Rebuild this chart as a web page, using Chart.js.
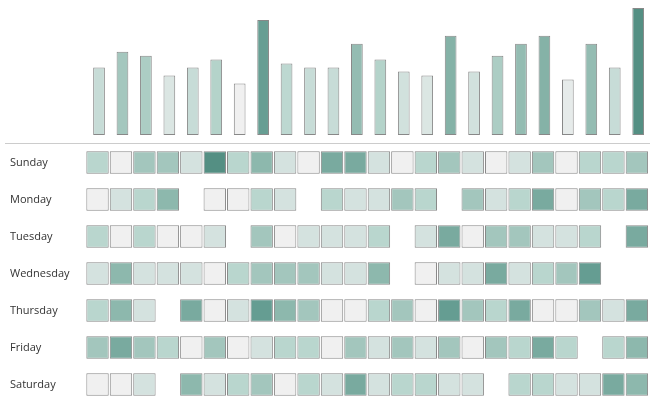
<!DOCTYPE html>
<html lang="en">
<head>
    <meta charset="UTF-8">
    <title>Weekly Activity Heatmap</title>
    <script src="https://cdn.jsdelivr.net/npm/chart.js"></script>
    <style>
        body { margin: 0; background: #fff; }
        #wrap { position: relative; width: 652px; height: 396px; }
        #totals { position: absolute; left: 0; top: 0; }
        #grid { position: absolute; left: 0; top: 144px; }
        #rule { position: absolute; left: 5px; top: 143px; width: 645px; height: 1px; background: #ccc; }
    </style>
</head>
<body>
<div id="wrap">
    <canvas id="totals" width="652" height="143"></canvas>
    <div id="rule"></div>
    <canvas id="grid" width="652" height="252"></canvas>
</div>

<script>
    // columns (hour slots) and rows (days)
    const hours = ['0', '1', '2', '3', '4', '5', '6', '7', '8', '9', '10', '11',
                   '12', '13', '14', '15', '16', '17', '18', '19', '20', '21', '22', '23'];
    const days = ['Sunday', 'Monday', 'Tuesday', 'Wednesday', 'Thursday', 'Friday', 'Saturday'];

    // heatmap values, 0 = no cell
    const sunday    = [3, 1, 4, 4, 2, 8, 3, 5, 2, 1, 6, 6, 2, 1, 3, 4, 2, 1, 2, 4, 1, 3, 3, 4];
    const monday    = [1, 2, 3, 5, 0, 1, 1, 3, 2, 0, 3, 2, 2, 4, 3, 0, 4, 2, 3, 6, 1, 4, 3, 6];
    const tuesday   = [3, 1, 3, 1, 1, 2, 0, 4, 1, 2, 2, 2, 3, 0, 2, 6, 1, 4, 4, 2, 2, 3, 0, 6];
    const wednesday = [2, 5, 2, 2, 2, 1, 3, 4, 4, 4, 2, 2, 5, 0, 1, 2, 2, 6, 2, 3, 4, 7, 0, 0];
    const thursday  = [3, 5, 2, 0, 6, 1, 2, 7, 5, 4, 1, 1, 3, 4, 1, 7, 4, 3, 6, 1, 1, 4, 2, 6];
    const friday    = [4, 6, 4, 3, 1, 4, 1, 2, 3, 3, 1, 4, 2, 4, 2, 4, 1, 4, 3, 6, 3, 0, 3, 5];
    const saturday  = [1, 1, 2, 0, 5, 2, 3, 4, 1, 3, 2, 6, 2, 3, 3, 2, 2, 0, 3, 3, 2, 2, 6, 5];

    // column totals shown in the top bar chart
    const totals = [17, 21, 20, 15, 17, 19, 13, 29, 18, 17, 17, 23, 19, 16, 15, 25, 16, 20, 23, 25, 14, 23, 17, 32];

    // colour steps for values 1..8
    const shades = ['#f0f0f0', '#d4e2df', '#b9d6ce', '#a3c6bd', '#8db8ad', '#79aa9f', '#659d92', '#548f83'];

    const rows = [sunday, monday, tuesday, wednesday, thursday, friday, saturday];

    function hexToRgb(h) {
        return [1, 3, 5].map(i => parseInt(h.substr(i, 2), 16));
    }

    // interpolate along the shade steps, level goes from 1 to 8
    function shadeAt(level) {
        const i = Math.min(Math.floor(level) - 1, shades.length - 2);
        const f = level - 1 - i;
        const a = hexToRgb(shades[i]), b = hexToRgb(shades[i + 1]);
        const c = a.map((v, k) => Math.round(v + (b[k] - v) * f));
        return `rgb(${c[0]}, ${c[1]}, ${c[2]})`;
    }

    const lo = Math.min(...totals), hi = Math.max(...totals);

    Chart.defaults.font.family = "'Open Sans', sans-serif";

    new Chart(document.getElementById('totals'), {
        type: 'bar',
        data: {
            labels: hours,
            datasets: [{
                data: totals,
                backgroundColor: totals.map(v => shadeAt(1 + 7 * (v - lo) / (hi - lo))),
                borderColor: '#888',
                borderWidth: 1,
                borderSkipped: false,
                barPercentage: 0.5,
                categoryPercentage: 1
            }]
        },
        options: {
            responsive: false,
            animation: false,
            layout: { padding: { left: 87.3, right: 2.1, top: 8, bottom: 8 } },
            plugins: { legend: { display: false }, tooltip: { enabled: false } },
            scales: {
                x: { display: false },
                y: { display: false, min: 0, max: 32 }
            }
        }
    });

    new Chart(document.getElementById('grid'), {
        type: 'bar',
        data: {
            labels: hours,
            datasets: rows.map((row, r) => ({
                label: days[r],
                data: row.map(v => v ? [r - 0.303, r + 0.303] : null),
                backgroundColor: row.map(v => shades[Math.max(v, 1) - 1]),
                borderColor: '#888',
                borderWidth: 1,
                borderSkipped: false,
                barPercentage: 0.955,
                categoryPercentage: 1,
                grouped: false
            }))
        },
        options: {
            responsive: false,
            animation: false,
            layout: { padding: { left: 10, right: 3.4, top: 0, bottom: 0 } },
            plugins: { legend: { display: false }, tooltip: { enabled: false } },
            scales: {
                x: { display: false },
                y: {
                    reverse: true,
                    min: -0.5,
                    max: 6.31,
                    grid: { display: false },
                    border: { display: false },
                    afterBuildTicks: s => { s.ticks = days.map((d, i) => ({ value: i })); },
                    afterFit: s => {
                        s.width = 75.8;
                        s.paddingTop = 0;
                        s.paddingBottom = 0;
                    },
                    ticks: {
                        crossAlign: 'far',
                        padding: 0,
                        color: '#333',
                        font: { size: 11 },
                        callback: v => days[v]
                    }
                }
            }
        }
    });
</script>
</body>
</html>
